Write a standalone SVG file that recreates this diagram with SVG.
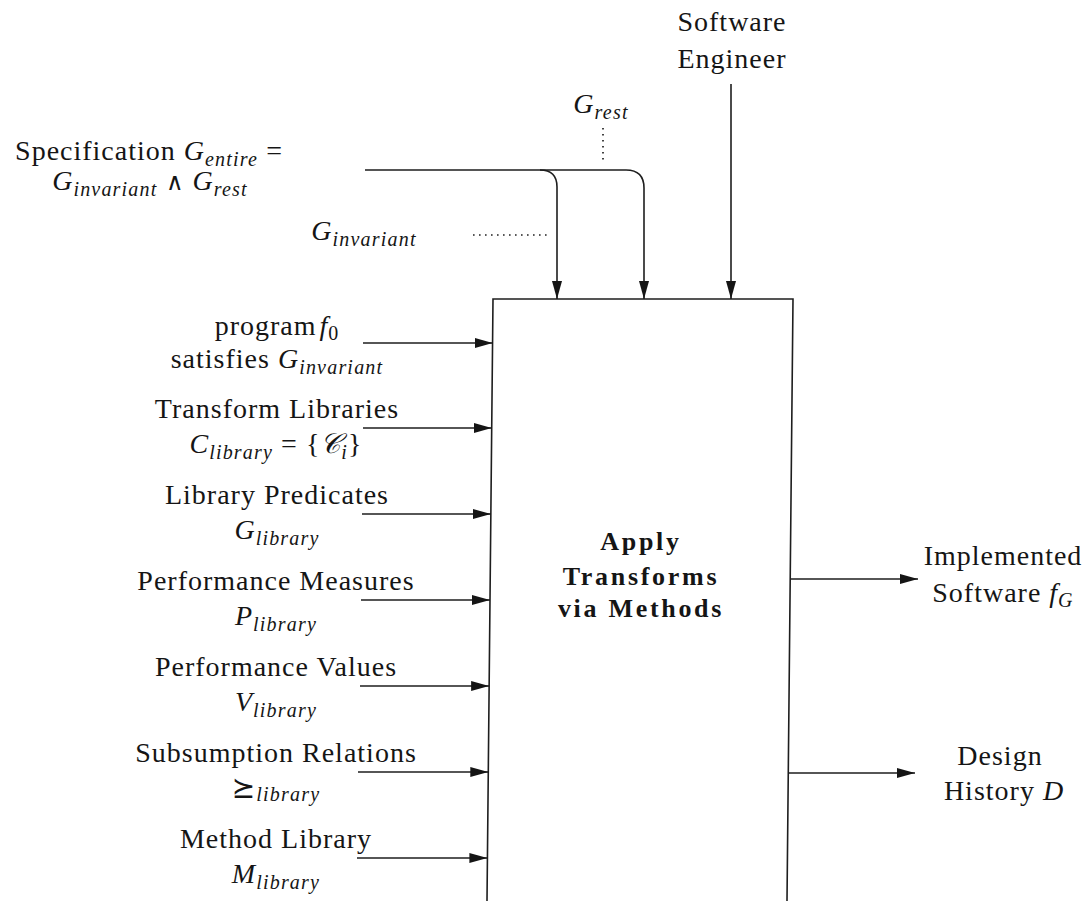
<svg xmlns="http://www.w3.org/2000/svg" width="1089" height="901" viewBox="0 0 1089 901">
  <style>
    text { font-family: "Liberation Serif", "DejaVu Serif", serif; fill: #151515; }
    .t { font-size: 28px; letter-spacing: 1px; text-anchor: middle; }
    .m { font-style: italic; }
    .s { font-size: 20px; font-style: italic; letter-spacing: 1.2px; }
    .su { font-size: 20px; letter-spacing: 1px; }
    .b { font-size: 26px; font-weight: bold; letter-spacing: 2.7px; text-anchor: middle; }
    .sym { font-family: "DejaVu Serif", "DejaVu Sans", "Liberation Serif", serif; }
    .op { font-family: "DejaVu Sans", "Liberation Serif", sans-serif; font-weight: 200; font-size: 24px; }
    .line { fill: none; stroke: #1e1e1e; stroke-width: 1.6; }
    .arrow { fill: none; stroke: #1e1e1e; stroke-width: 1.6; marker-end: url(#head); }
    .dot { fill: none; stroke: #222; stroke-width: 1.7; stroke-dasharray: 1.6 4.4; }
  </style>
  <defs>
    <marker id="head" markerUnits="userSpaceOnUse" markerWidth="20" markerHeight="12" refX="18" refY="5.5" orient="auto">
      <path d="M0,0.5 L18,5.5 L0,10.5 Z" fill="#151515"/>
    </marker>
  </defs>

  <rect width="1089" height="901" fill="#ffffff"/>

  <!-- central process block (open at the bottom) -->
  <g id="apply-transforms">
    <path class="line" d="M487,901 L493,299 L793,299 L787,901"/>
    <text class="b" x="641" y="550">Apply</text>
    <text class="b" x="641" y="585">Transforms</text>
    <text class="b" x="641" y="617">via Methods</text>
  </g>

  <!-- inputs from above -->
  <g id="specification">
    <text class="t" x="149" y="160">Specification <tspan class="m">G</tspan><tspan class="s" dy="6">entire</tspan><tspan dy="-6"> =</tspan></text>
    <text class="t" x="150" y="190"><tspan class="m">G</tspan><tspan class="s" dy="6">invariant</tspan><tspan dy="-6"> </tspan><tspan class="op">∧</tspan><tspan> </tspan><tspan class="m">G</tspan><tspan class="s" dy="6">rest</tspan></text>
  </g>
  <g id="g-rest">
    <text class="t" x="601" y="113"><tspan class="m">G</tspan><tspan class="s" dy="6">rest</tspan></text>
  </g>
  <g id="g-invariant">
    <text class="t" x="364" y="240"><tspan class="m">G</tspan><tspan class="s" dy="6">invariant</tspan></text>
  </g>
  <g id="software-engineer">
    <text class="t" x="732" y="31">Software</text>
    <text class="t" x="732" y="68">Engineer</text>
  </g>

  <!-- inputs from the left -->
  <g id="program-f0">
    <text class="t" x="277" y="335">program<tspan class="m" dx="3">f</tspan><tspan class="su" dy="5">0</tspan></text>
    <text class="t" x="277" y="368">satisfies <tspan class="m">G</tspan><tspan class="s" dy="6">invariant</tspan></text>
  </g>
  <g id="transform-libraries">
    <text class="t" x="277" y="418">Transform Libraries</text>
    <text class="t" x="276" y="453"><tspan class="m">C</tspan><tspan class="s" dy="6">library</tspan><tspan dy="-6"> = {</tspan><tspan class="m sym">𝒞</tspan><tspan class="s" dy="6">i</tspan><tspan dy="-6">}</tspan></text>
  </g>
  <g id="library-predicates">
    <text class="t" x="277" y="504">Library Predicates</text>
    <text class="t" x="277" y="539"><tspan class="m">G</tspan><tspan class="s" dy="6">library</tspan></text>
  </g>
  <g id="performance-measures">
    <text class="t" x="276" y="590">Performance Measures</text>
    <text class="t" x="276" y="625"><tspan class="m">P</tspan><tspan class="s" dy="6">library</tspan></text>
  </g>
  <g id="performance-values">
    <text class="t" x="276" y="676">Performance Values</text>
    <text class="t" x="276" y="711"><tspan class="m">V</tspan><tspan class="s" dy="6">library</tspan></text>
  </g>
  <g id="subsumption-relations">
    <text class="t" x="276" y="762">Subsumption Relations</text>
    <text class="t" x="276" y="797"><tspan class="sym">⪰</tspan><tspan class="s" dy="4">library</tspan></text>
  </g>
  <g id="method-library">
    <text class="t" x="276" y="848">Method Library</text>
    <text class="t" x="276" y="883"><tspan class="m">M</tspan><tspan class="s" dy="6">library</tspan></text>
  </g>

  <!-- outputs to the right -->
  <g id="implemented-software">
    <text class="t" x="1003" y="565">Implemented</text>
    <text class="t" x="1003" y="602">Software <tspan class="m">f</tspan><tspan class="s" dy="5">G</tspan></text>
  </g>
  <g id="design-history">
    <text class="t" x="1000" y="765">Design</text>
    <text class="t" x="1004" y="800">History <tspan class="m">D</tspan></text>
  </g>

  <!-- connectors -->
  <g id="connectors">
    <path class="arrow" d="M365,170 H540 Q557,170 557,187 V299"/>
    <path class="arrow" d="M540,170 H626 Q644,170 644,188 V299"/>
    <path class="arrow" d="M731,84 V299"/>
    <path class="dot" d="M603,128 V163"/>
    <path class="dot" d="M473,235 H551"/>

    <path class="arrow" d="M363,343 H492.6"/>
    <path class="arrow" d="M363,428 H491.7"/>
    <path class="arrow" d="M362,514 H490.9"/>
    <path class="arrow" d="M361,600 H490"/>
    <path class="arrow" d="M360,686 H489.1"/>
    <path class="arrow" d="M358,772 H488.3"/>
    <path class="arrow" d="M357,858 H487.4"/>

    <path class="arrow" d="M790.2,579 H918"/>
    <path class="arrow" d="M788.3,773 H915"/>
  </g>
</svg>
